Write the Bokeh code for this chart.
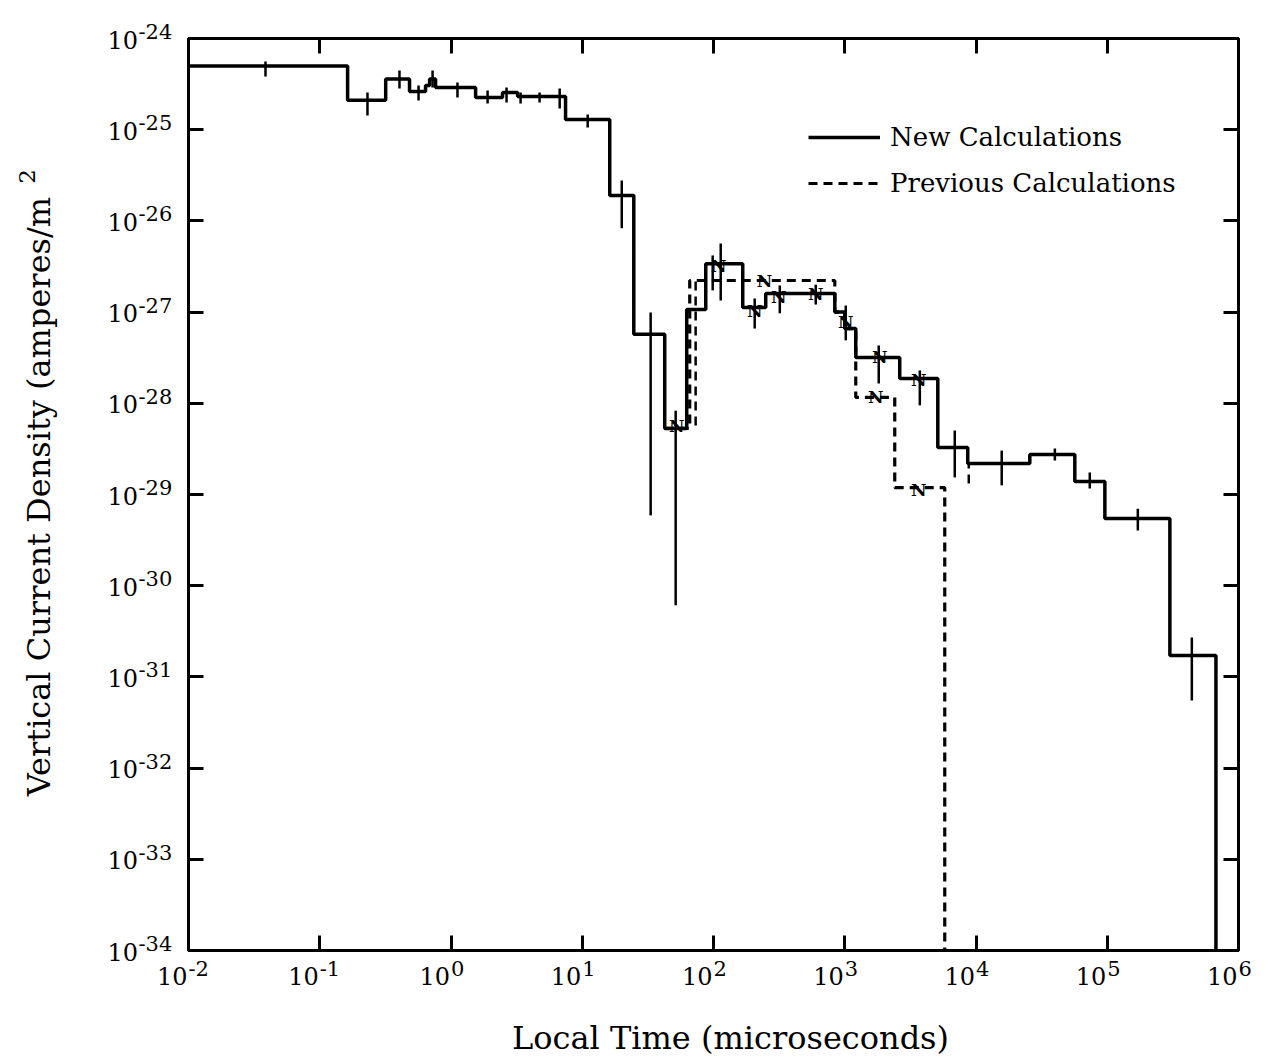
import math
from bokeh.plotting import figure
from bokeh.models import Range1d, FixedTicker, LogAxis, CustomJSTickFormatter, Legend, LegendItem
from bokeh.core.properties import value
from bokeh.embed import file_html
from bokeh.resources import INLINE

# ---------------- data ----------------
# New calculations: bin edges (microseconds) and current density per bin (A/m^2)
new_edges = [0.01, 0.163, 0.318, 0.483, 0.640, 0.687, 0.763, 1.54, 2.47, 3.22, 7.46, 16.2, 24.7,
             42.5, 62.5, 87.3, 167, 250, 840, 1000, 1213, 2624, 5117, 8650, 25700, 56600,
             95900, 3.0e5, 6.73e5]
new_vals = [5.0e-25, 2.1e-25, 3.6e-25, 2.63e-25, 3.05e-25, 3.6e-25, 2.90e-25, 2.25e-25, 2.56e-25,
            2.31e-25, 1.29e-25, 1.9e-26, 5.7e-28, 5.3e-29, 1.07e-27, 3.4e-27, 1.12e-27, 1.6e-27,
            1.0e-27, 6.6e-28, 3.18e-28, 1.87e-28, 3.27e-29, 2.19e-29, 2.75e-29, 1.39e-29,
            5.46e-30, 1.72e-31]

# Previous calculations (where they differ from the new ones)
prev_edges = [42.5, 65.9, 840, 1000, 1213, 2404, 5780]
prev_vals = [5.3e-29, 2.22e-27, 1.0e-27, 6.6e-28, 1.16e-28, 1.19e-29]

# Error bars, new calculations
err_x = [0.0386, 0.231, 0.405, 0.566, 0.724, 1.12, 1.90, 2.65, 3.39, 4.73, 6.73, 11.0, 20.0, 33.2,
         51.5, 98.6, 113.5, 206, 320, 601, 1018, 1815, 3732, 6890, 15700, 39900, 73600, 171000, 441000]
err_hi = [5.6e-25, 2.56e-25, 4.46e-25, 3.05e-25, 4.46e-25, 3.30e-25, 2.69e-25, 2.90e-25, 2.56e-25,
          2.56e-25, 2.83e-25, 1.47e-25, 2.77e-26, 9.9e-28, 8.3e-29, 4.18e-27, 5.65e-27, 1.41e-27,
          1.96e-27, 2.0e-27, 1.18e-27, 4.31e-28, 2.29e-28, 5.03e-29, 3.03e-29, 3.19e-29, 1.74e-29,
          7.0e-30, 2.7e-31]
err_lo = [3.83e-25, 1.43e-25, 2.83e-25, 2.09e-25, 2.90e-25, 2.25e-25, 1.94e-25, 1.99e-25, 1.94e-25,
          1.99e-25, 1.71e-25, 1.06e-25, 8.3e-27, 5.9e-30, 6.1e-31, 1.73e-27, 1.34e-27, 6.6e-28,
          9.7e-28, 1.21e-27, 4.9e-28, 1.65e-28, 9.5e-29, 1.54e-29, 1.26e-29, 2.36e-29, 1.16e-29,
          4.03e-30, 5.5e-32]

# Error bars, previous calculations
prev_err_x = [73.1, 8810]
prev_err_hi = [2.22e-27, 2.19e-29]
prev_err_lo = [5.7e-29, 1.32e-29]

# "N" markers
n_x = [52.5, 109.6, 206, 245, 314, 601, 1018, 1849, 1722, 3664, 3664]
n_y = [5.7e-29, 3.24e-27, 1.04e-27, 2.22e-27, 1.45e-27, 1.56e-27, 7.7e-28, 3.18e-28, 1.16e-28,
       1.78e-28, 1.11e-29]

x_ticks = [1e-2, 1e-1, 1e0, 1e1, 1e2, 1e3, 1e4, 1e5, 1e6]
x_exps = ["-2", "-1", "0", "1", "2", "3", "4", "5", "6"]
y_ticks = [1e-24, 1e-25, 1e-26, 1e-27, 1e-28, 1e-29, 1e-30, 1e-31, 1e-32, 1e-33, 1e-34]
y_exps = ["-24", "-25", "-26", "-27", "-28", "-29", "-30", "-31", "-32", "-33", "-34"]

x_label = "Local Time (microseconds)"
y_label = "Vertical Current Density (amperes/m"
y_label_sup = "2"
legend_labels = ["New Calculations", "Previous Calculations"]

X_MIN, X_MAX = 1e-2, 1e6
Y_MIN, Y_MAX = 1e-34, 1e-24

FONT = "DejaVu Serif"


def step_path(edges, vals, floor):
    xs, ys = [], []
    for i, v in enumerate(vals):
        xs += [edges[i], edges[i + 1]]
        ys += [v, v]
    xs.append(edges[-1])
    ys.append(floor)
    return xs, ys


p = figure(width=1269, height=1059, x_axis_type="log", y_axis_type="log",
           x_range=Range1d(X_MIN, X_MAX), y_range=Range1d(Y_MIN, Y_MAX),
           output_backend="svg", toolbar_location=None,
           min_border_left=188, min_border_right=31, min_border_top=38, min_border_bottom=109)
p.background_fill_color = "white"
p.border_fill_color = "white"
p.outline_line_color = "black"
p.outline_line_width = 3
p.grid.visible = False

empty = CustomJSTickFormatter(code="return ''")


def style_axis(ax, ticks):
    ax.ticker = FixedTicker(ticks=ticks, minor_ticks=[])
    ax.formatter = empty
    ax.major_tick_in = 15
    ax.major_tick_out = 0
    ax.major_tick_line_width = 3
    ax.major_tick_line_color = "black"
    ax.axis_line_width = 3
    ax.axis_line_color = "black"
    ax.minor_tick_line_color = None
    ax.major_label_standoff = 0


style_axis(p.xaxis[0], x_ticks)
style_axis(p.yaxis[0], y_ticks)
top = LogAxis()
style_axis(top, x_ticks)
p.add_layout(top, "above")
right = LogAxis()
style_axis(right, y_ticks)
p.add_layout(right, "right")

# previous calculations (dashed)
px_, py_ = step_path(prev_edges, prev_vals, Y_MIN)
r_prev = p.line(px_, py_, line_color="black", line_width=3.2, line_dash="9 6")
p.segment(x0=prev_err_x, y0=prev_err_lo, x1=prev_err_x, y1=prev_err_hi,
          line_color="black", line_width=2.5, line_dash="9 6")

# new calculations (solid)
nx_, ny_ = step_path(new_edges, new_vals, Y_MIN)
r_new = p.line(nx_, ny_, line_color="black", line_width=3.5)
p.segment(x0=err_x, y0=err_lo, x1=err_x, y1=err_hi, line_color="black", line_width=2.5)

# N markers
p.text(x=n_x, y=n_y, text=["N"] * len(n_x), text_align="center", text_baseline="middle",
       text_font=value(FONT), text_font_size="17px", text_font_style="bold", text_color="black")

# tick labels (10 with superscript exponent)
nxt = len(x_ticks)
p.text(x=x_ticks, y=[Y_MIN] * nxt, text=["10"] * nxt, text_align="right", text_baseline="middle",
       x_offset=-1, y_offset=25, text_font=value(FONT), text_font_size="24px", level="overlay")
p.text(x=x_ticks, y=[Y_MIN] * nxt, text=x_exps, text_align="left", text_baseline="alphabetic",
       x_offset=0, y_offset=18, text_font=value(FONT), text_font_size="21px", level="overlay")
nyt = len(y_ticks)
p.text(x=[X_MIN] * nyt, y=y_ticks, text=["10"] * nyt, text_align="left", text_baseline="middle",
       x_offset=-81, y_offset=1, text_font=value(FONT), text_font_size="24px", level="overlay")
p.text(x=[X_MIN] * nyt, y=y_ticks, text=y_exps, text_align="left", text_baseline="alphabetic",
       x_offset=-50, y_offset=-7, text_font=value(FONT), text_font_size="21px", level="overlay")

# axis titles
x_mid = math.sqrt(X_MIN * X_MAX)
y_mid = math.sqrt(Y_MIN * Y_MAX)
p.text(x=[x_mid], y=[Y_MIN], text=[x_label], text_align="center", text_baseline="middle",
       x_offset=17, y_offset=87, text_font=value(FONT), text_font_size="32px", level="overlay")
p.text(x=[X_MIN], y=[y_mid], text=[y_label], angle=math.pi / 2, text_align="center",
       text_baseline="middle", x_offset=-150, y_offset=2, text_font=value(FONT),
       text_font_size="32px", level="overlay")
p.text(x=[X_MIN], y=[y_mid], text=[y_label_sup], angle=math.pi / 2, text_align="center",
       text_baseline="middle", x_offset=-162, y_offset=-318, text_font=value(FONT),
       text_font_size="23px", level="overlay")

# legend
legend = Legend(items=[LegendItem(label=legend_labels[0], renderers=[r_new]),
                       LegendItem(label=legend_labels[1], renderers=[r_prev])],
                location=(620, 752), glyph_width=72, glyph_height=26, label_height=26,
                spacing=16, padding=0, margin=0, label_standoff=10,
                border_line_color=None, background_fill_alpha=0,
                label_text_font=FONT, label_text_font_size="26px", label_text_color="black")
p.add_layout(legend)

open("out.html", "w").write(file_html(p, INLINE))
